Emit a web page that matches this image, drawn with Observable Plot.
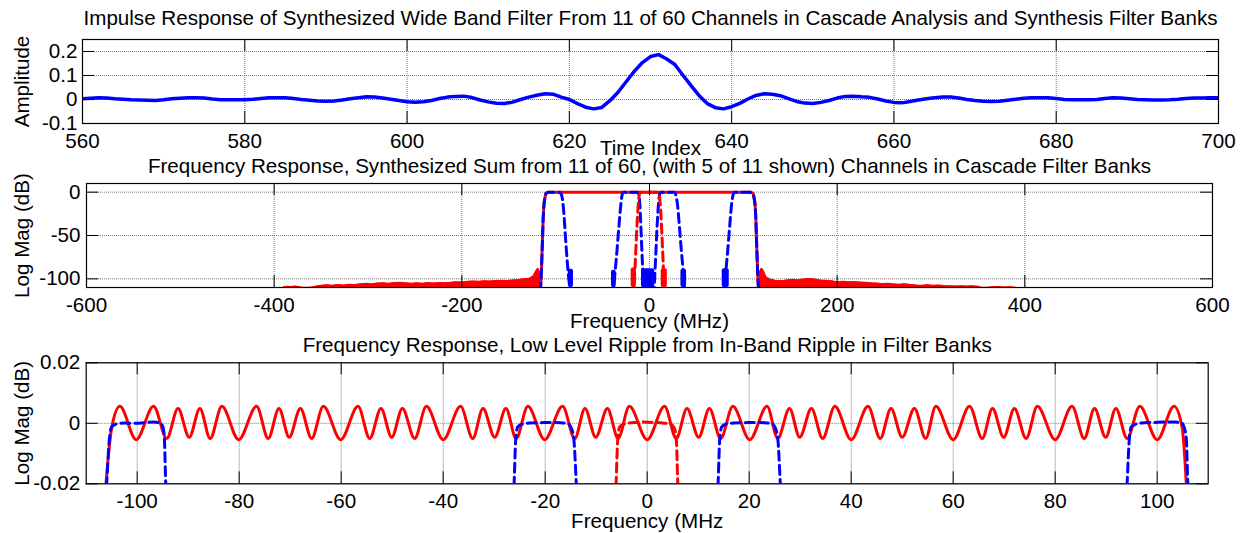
<!DOCTYPE html>
<html><head><meta charset="utf-8">
<script src="https://cdn.jsdelivr.net/npm/d3@7"></script>
<script src="https://cdn.jsdelivr.net/npm/@observablehq/plot@0.6"></script>
<style>
body{margin:0;background:#fff;}
#wrap{position:relative;width:1243px;height:533px;overflow:hidden;background:#fff;}
</style></head><body><div id="wrap"></div>
<script>
// ---------- Panel 1: impulse response ----------
const title1 = "Impulse Response of Synthesized Wide Band Filter From 11 of 60 Channels in Cascade Analysis and Synthesis Filter Banks";
const timeIndex = d3.range(560, 701);
const amplitude = [
  0.003, 0.005, 0.007, 0.006, 0.003, 0.001, -0.001, -0.002, -0.003, -0.004,
  -0.001, 0.003, 0.005, 0.007, 0.007, 0.006, 0.002, -0.001, -0.001, -0.001,
  -0.001, 0.001, 0.004, 0.007, 0.007, 0.007, 0.004, 0.000, -0.003, -0.006,
  -0.007, -0.006, -0.002, 0.003, 0.007, 0.011, 0.010, 0.006, 0.001, -0.004,
  -0.009, -0.011, -0.009, -0.004, 0.004, 0.010, 0.013, 0.014, 0.008, -0.002,
  -0.010, -0.016, -0.017, -0.011, 0.000, 0.010, 0.018, 0.024, 0.022, 0.010,
  0.000, -0.017, -0.032, -0.039, -0.033, -0.005, 0.030, 0.074, 0.117, 0.154,
  0.179, 0.187, 0.169, 0.146, 0.101, 0.058, 0.016, -0.017, -0.034, -0.039,
  -0.030, -0.016, 0.002, 0.017, 0.024, 0.022, 0.016, 0.004, -0.008, -0.015,
  -0.017, -0.012, -0.004, 0.006, 0.013, 0.014, 0.011, 0.009, 0.002, -0.006,
  -0.012, -0.014, -0.008, -0.002, 0.003, 0.007, 0.010, 0.010, 0.006, 0.000,
  -0.004, -0.007, -0.008, -0.007, -0.003, 0.001, 0.005, 0.007, 0.007, 0.007,
  0.004, 0.000, -0.001, -0.001, -0.001, 0.000, 0.004, 0.007, 0.006, 0.003,
  0.000, -0.001, -0.002, -0.002, -0.001, 0.001, 0.004, 0.006, 0.006, 0.007,
  0.007
];
const x1Ticks = [560, 580, 600, 620, 640, 660, 680, 700];
const y1Ticks = [-0.1, 0, 0.1, 0.2];

// ---------- Panel 2: wide-band frequency response ----------
const title2 = "Frequency Response, Synthesized Sum from 11 of 60, (with 5 of 11 shown) Channels in Cascade Filter Banks";
const x2Ticks = [-600, -400, -200, 0, 200, 400, 600];
const y2Ticks = [-100, -50, 0];
const sumF  = [-116.5, -115.8, -115, -114.2, -113.3, -112.5, -111.5, -110.5, -108, 108, 110.5, 111.5, 112.5, 113.3, 114.2, 115, 115.8, 116.5];
const sumDb = [-115, -105, -85, -60, -30, -15, -7, -2, 0, 0, -2, -7, -15, -30, -60, -85, -105, -115];
const noiseLeftF  = [-390, -386, -382, -378, -374, -370, -366, -362, -358, -354, -350, -344, -338, -332, -326, -320, -314, -308, -302, -296, -290, -284, -278, -272, -266, -260, -254, -248, -242, -236, -230, -224, -218, -212, -206, -200, -194, -188, -182, -176, -170, -164, -158, -152, -146, -140, -134, -128, -124, -121, -119, -117.5, -116.5];
const noiseLeftDb = [-109.5, -108.8, -109.2, -108.5, -109, -110, -110, -110, -109.5, -108.2, -107.8, -107.2, -107.6, -106.8, -107.3, -106.5, -106.9, -106, -105.4, -105.9, -105.2, -104.8, -105.3, -104.5, -104.2, -104.8, -105.5, -104.9, -105.3, -104.6, -105, -104.4, -104.8, -104.1, -103.6, -103.9, -103.2, -102.8, -103.1, -102.5, -102.9, -102.3, -101.8, -102.2, -101.5, -101, -100.2, -99.5, -97, -91, -88, -92, -110];
const noiseRightF  = [116.5, 117.5, 119, 121, 124, 128, 134, 140, 146, 152, 158, 164, 170, 176, 182, 188, 194, 200, 206, 212, 218, 224, 230, 236, 242, 248, 254, 260, 266, 272, 278, 284, 290, 296, 302, 308, 314, 320, 326, 332, 338, 344, 350, 354, 360, 366, 372, 378, 384, 388, 390];
const noiseRightDb = [-110, -92, -88, -90, -98, -100.5, -101.8, -102.5, -101.6, -100.8, -101.3, -100.5, -100, -100.6, -101.5, -102, -102.5, -103.6, -103.2, -103.7, -103.3, -103.8, -104.2, -104.8, -105.2, -105.6, -105.4, -106, -106.4, -106.1, -106.7, -107.3, -107.6, -107.2, -107.8, -107.5, -108, -108.3, -108.6, -108.2, -108.5, -108.3, -108.8, -110, -110, -109.5, -109.2, -109.6, -109.3, -109.8, -110];
// channel responses (dB) shown dashed
const chM100F  = [-116.5, -115.8, -115, -114.2, -113.3, -112.5, -111.5, -110.5, -108, -100, -96, -94.8, -93.5, -92.3, -91, -89.8, -88.5, -87.3, -86, -84.8, -84.3];
const chM100Db = [-115, -105, -85, -60, -30, -15, -7, -2, 0, 0, 0, -1, -4, -12, -28, -48, -68, -85, -100, -110, -120];
const chM20F   = [-38.5, -38, -36.5, -35, -33.5, -32, -30.5, -29.5, -28.5, -27, -20, -13, -11.8, -11, -10.3, -9.5, -8.6, -7.7, -7, -6.5, -6];
const chM20Db  = [-120, -110, -90, -72, -52, -32, -14, -5, -1, 0, 0, 0, -1.5, -5, -14, -32, -55, -78, -95, -110, -120];
const ch0F     = [-17, -16.5, -15.6, -14.7, -13.8, -12.8, -11.8, -11, -10.2, -9, 0, 8.5, 9.7, 10.5, 11.3, 12.3, 13.2, 14.1, 14.9, 15.5, 16];
const ch0Db    = [-120, -110, -90, -70, -48, -28, -12, -4, -1, 0, 0, 0, -1, -4, -12, -28, -48, -70, -90, -110, -120];
const chP20F   = [4.5, 5, 5.9, 6.8, 7.7, 8.7, 9.7, 10.5, 11.3, 12.5, 20, 26.5, 27.3, 28.5, 29.8, 31.3, 32.8, 34.3, 35.8, 37, 37.5];
const chP20Db  = [-120, -110, -90, -70, -48, -28, -12, -4, -1, 0, 0, 0, -1, -5, -14, -32, -52, -72, -90, -110, -120];
const chP100F  = [79.5, 80, 81.5, 83, 84.5, 86, 87.5, 88.7, 89.7, 91, 100, 108, 110.5, 111.5, 112.5, 113.3, 114.2, 115, 115.8, 116.5];
const chP100Db = [-120, -110, -90, -72, -52, -32, -14, -5, -1, 0, 0, 0, -2, -7, -15, -30, -60, -85, -105, -115];
// clipped stop-band sidelobe clusters at the floor
const blueBlobF1 = [-86.5, -40.5, -8.5, 33.5, 77.5];
const blueBlobF2 = [-81, -35.5, 5.5, 39.5, 85];
const blueBlobTop = [-89, -90, -88.5, -89, -88.5];
const redBlobF1 = [-19.5, 12.5];
const redBlobF2 = [-14, 19];
const redBlobTop = [-87.5, -88.5];

// ---------- Panel 3: in-band ripple ----------
const title3 = "Frequency Response, Low Level Ripple from In-Band Ripple in Filter Banks";
const x3Ticks = [-100, -80, -60, -40, -20, 0, 20, 40, 60, 80, 100];
const y3Ticks = [-0.02, 0, 0.02];
const rippleF = [-106.4, -105.0, -103.4, -100.2, -96.8, -94.2, -92.0, -89.8, -87.7, -85.7, -83.4, -80.1, -76.6, -74.3, -72.2, -70.2, -68.0, -65.8, -63.5, -60.1, -56.7, -54.4, -52.2, -50.1, -48.0, -45.6, -43.3, -40.0, -36.6, -34.2, -32.2, -29.9, -27.7, -25.7, -23.4, -20.1, -16.6, -14.2, -12.2, -10.1, -7.8, -5.7, -3.5, 0.0, 3.4, 5.7, 7.8, 10.1, 12.2, 14.4, 16.8, 20.1, 23.5, 25.6, 27.9, 29.9, 32.2, 34.4, 36.8, 40.0, 43.3, 45.7, 47.8, 50.0, 52.4, 54.6, 56.6, 60.0, 63.2, 65.7, 67.7, 69.9, 72.0, 74.3, 76.5, 80.0, 83.3, 85.7, 87.7, 89.9, 91.9, 94.1, 96.6, 100.0, 103.3, 104.9, 105.9];
const rippleDb = [-0.026, -0.0015,
  0.0056, -0.0054, 0.0056, -0.005, 0.0049, -0.0046, 0.0049, -0.005, 0.0056,
  -0.0054, 0.0056, -0.005, 0.0049, -0.0046, 0.0049, -0.005, 0.0056,
  -0.0054, 0.0056, -0.005, 0.0049, -0.0046, 0.0049, -0.005, 0.0056,
  -0.0054, 0.0056, -0.005, 0.0049, -0.0046, 0.0049, -0.005, 0.0056,
  -0.0054, 0.0056, -0.005, 0.0049, -0.0046, 0.0049, -0.005, 0.0056,
  -0.0054,
  0.0056, -0.005, 0.0049, -0.0046, 0.0049, -0.005, 0.0056, -0.0054,
  0.0056, -0.005, 0.0049, -0.0046, 0.0049, -0.005, 0.0056, -0.0054,
  0.0056, -0.005, 0.0049, -0.0046, 0.0049, -0.005, 0.0056, -0.0054,
  0.0056, -0.005, 0.0049, -0.0046, 0.0049, -0.005, 0.0056, -0.0054,
  0.0056, -0.005, 0.0049, -0.0046, 0.0049, -0.005, 0.0056, -0.0054,
  0.0056, -0.0015, -0.026];
const zM100F  = [-106.8, -106.0, -105.5, -105.0, -104.2, -102.5, -100.5, -98.5, -96.8, -95.6, -95.0, -94.7, -94.4, -94.0];
const zM100Db = [-0.03, -0.02, -0.006, -0.0012, -0.0003, 0.0001, 0.0, 0.0002, 0.0004, 0.0001, -0.001, -0.004, -0.02, -0.03];
const zM20F   = [-26.5, -26.1, -25.8, -25.4, -24.6, -23, -21, -19, -17, -15.5, -14.9, -14.4, -13.9, -13.6];
const zM20Db  = [-0.03, -0.02, -0.006, -0.0012, -0.0003, 0.0001, 0.0002, 0.0003, 0.0002, -0.0002, -0.0015, -0.005, -0.02, -0.03];
const z0F     = [-6.4, -6.1, -5.8, -5.4, -4.6, -3, -1, 1, 3, 4.6, 5.3, 5.7, 6.0, 6.3];
const z0Db    = [-0.03, -0.02, -0.006, -0.0012, -0.0003, 0.0002, 0.0004, 0.0003, 0.0001, -0.0003, -0.0015, -0.005, -0.02, -0.03];
const zP20F   = [13.6, 13.9, 14.2, 14.6, 15.4, 17, 19, 21, 23, 24.5, 25.1, 25.6, 26.1, 26.4];
const zP20Db  = [-0.03, -0.02, -0.006, -0.0012, -0.0003, 0.0001, 0.0002, 0.0003, 0.0002, -0.0002, -0.0015, -0.005, -0.02, -0.03];
const zP100F  = [93.8, 94.1, 94.5, 94.9, 95.8, 97.5, 99.5, 101.5, 103.5, 104.8, 105.3, 105.7, 106.0, 106.3];
const zP100Db = [-0.03, -0.02, -0.006, -0.0012, -0.0003, 0.0002, 0.0003, 0.0004, 0.0004, 0.0001, -0.0015, -0.005, -0.02, -0.03];

// ---------- drawing ----------
const FONT = '"Liberation Sans", Arial, Helvetica, sans-serif';
const RED = "#ff0000", BLUE = "#0000ff";
const FS = 20.6;
const TL = 12; // inward tick length (px)
const fmt = d => String(d);

function grid(xt, yt) {
  const g = {stroke: "#777", strokeOpacity: 1, strokeWidth: 1, strokeDasharray: "1,1"};
  return [Plot.gridX(xt, g), Plot.gridY(yt, g)];
}
// inward MATLAB-style ticks on all four sides, drawn as shortened tick marks
function axes(xt, yt, fw, fh, xPad, yPad) {
  const t = {stroke: "#000", strokeWidth: 1};
  return [
    Plot.tickX(xt, {x: d => d, insetTop: fh - TL, ...t}),
    Plot.tickX(xt, {x: d => d, insetBottom: fh - TL, ...t}),
    Plot.tickY(yt, {y: d => d, insetRight: fw - TL, ...t}),
    Plot.tickY(yt, {y: d => d, insetLeft: fw - TL, ...t}),
    Plot.frame({stroke: "#000", strokeWidth: 1.2}),
    Plot.axisX(xt, {anchor: "bottom", tickSize: 0, tickPadding: xPad, tickFormat: fmt, label: null, fontSize: FS}),
    Plot.axisY(yt, {anchor: "left", tickSize: 0, tickPadding: yPad, tickFormat: fmt, label: null, fontSize: FS})
  ];
}
function label(str, anchor, opts) {
  return Plot.text([str], {text: d => d, frameAnchor: anchor, fontSize: FS, fill: "#000", textAnchor: "middle", ...opts});
}
const style = {background: "transparent", overflow: "visible", fontFamily: FONT, fontSize: FS + "px", color: "#000"};

const L1 = {w: 1243, h: 160, t: 39, b: 37, l: 82, r: 25};
const p1 = Plot.plot({
  width: L1.w, height: L1.h, marginTop: L1.t, marginBottom: L1.b, marginLeft: L1.l, marginRight: L1.r,
  x: {domain: [560, 700]}, y: {domain: [-0.1, 0.25]}, style,
  marks: [
    ...grid(x1Ticks, y1Ticks),
    Plot.line(amplitude, {x: timeIndex, y: amplitude, stroke: BLUE, strokeWidth: 3.5, clip: true}),
    ...axes(x1Ticks, y1Ticks, L1.w - L1.l - L1.r, L1.h - L1.t - L1.b, 10, 5),
    label(title1, "top", {dy: -15, lineAnchor: "bottom"}),
    label("Time Index", "bottom", {dy: 31, lineAnchor: "bottom"}),
    label("Amplitude", "left", {dx: -60, rotate: -90})
  ]
});

const L2 = {w: 1243, h: 172, t: 23, b: 45, l: 86, r: 31};
const p2 = Plot.plot({
  width: L2.w, height: L2.h, marginTop: L2.t, marginBottom: L2.b, marginLeft: L2.l, marginRight: L2.r,
  x: {domain: [-600, 600]}, y: {domain: [-110, 10]}, style,
  marks: [
    ...grid(x2Ticks, y2Ticks),
    Plot.areaY(noiseLeftF, {x: noiseLeftF, y1: -110, y2: noiseLeftDb, fill: RED, clip: true}),
    Plot.areaY(noiseRightF, {x: noiseRightF, y1: -110, y2: noiseRightDb, fill: RED, clip: true}),
    Plot.line(noiseLeftF, {x: noiseLeftF, y: noiseLeftDb, stroke: RED, strokeWidth: 1.5, clip: true}),
    Plot.line(noiseRightF, {x: noiseRightF, y: noiseRightDb, stroke: RED, strokeWidth: 1.5, clip: true}),
    Plot.line(sumF, {x: sumF, y: sumDb, stroke: RED, strokeWidth: 3, curve: "monotone-x", clip: true}),
    Plot.rect(redBlobF1, {x1: redBlobF1, x2: redBlobF2, y1: -110, y2: redBlobTop, fill: RED, rx: 2, clip: true}),
    Plot.rect(blueBlobF1, {x1: blueBlobF1, x2: blueBlobF2, y1: -110, y2: blueBlobTop, fill: BLUE, rx: 2, clip: true}),
    ...[[chM100F, chM100Db], [chM20F, chM20Db], [chP20F, chP20Db], [chP100F, chP100Db]].map(([f, v]) =>
      Plot.line(f, {x: f, y: v, stroke: BLUE, strokeWidth: 3, strokeDasharray: "9,5", curve: "monotone-x", clip: true})),
    Plot.line(ch0F, {x: ch0F, y: ch0Db, stroke: RED, strokeWidth: 3, strokeDasharray: "9,5", curve: "monotone-x", clip: true}),
    ...axes(x2Ticks, y2Ticks, L2.w - L2.l - L2.r, L2.h - L2.t - L2.b, 10, 6),
    label(title2, "top", {dy: -11, lineAnchor: "bottom"}),
    label("Frequency (MHz)", "bottom", {dy: 40, lineAnchor: "bottom"}),
    label("Log Mag (dB)", "left", {dx: -64, rotate: -90})
  ]
});

const L3 = {w: 1243, h: 201, t: 30.3, b: 49.7, l: 85.7, r: 35.3};
const p3 = Plot.plot({
  width: L3.w, height: L3.h, marginTop: L3.t, marginBottom: L3.b, marginLeft: L3.l, marginRight: L3.r,
  x: {domain: [-110, 110]}, y: {domain: [-0.02, 0.02]}, style,
  marks: [
    ...grid(x3Ticks, y3Ticks),
    Plot.line(rippleF, {x: rippleF, y: rippleDb, stroke: RED, strokeWidth: 3, curve: "monotone-x", clip: true}),
    ...[[zM100F, zM100Db], [zM20F, zM20Db], [zP20F, zP20Db], [zP100F, zP100Db]].map(([f, v]) =>
      Plot.line(f, {x: f, y: v, stroke: BLUE, strokeWidth: 3, strokeDasharray: "9,5", curve: "monotone-x", clip: true})),
    Plot.line(z0F, {x: z0F, y: z0Db, stroke: RED, strokeWidth: 3, strokeDasharray: "9,5", curve: "monotone-x", clip: true}),
    ...axes(x3Ticks, y3Ticks, L3.w - L3.l - L3.r, L3.h - L3.t - L3.b, 10, 6),
    label(title3, "top", {dy: -10.6, lineAnchor: "bottom"}),
    label("Frequency (MHz", "bottom", {dy: 44.4, lineAnchor: "bottom"}),
    label("Log Mag (dB)", "left", {dx: -64, rotate: -90})
  ]
});

const wrap = document.getElementById("wrap");
[[p1, 0], [p2, 160], [p3, 332]].forEach(([svg, top]) => {
  svg.style.position = "absolute";
  svg.style.left = "0px";
  svg.style.top = top + "px";
  wrap.appendChild(svg);
});
</script></body></html>
